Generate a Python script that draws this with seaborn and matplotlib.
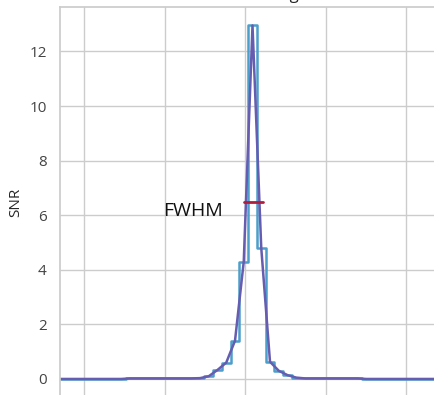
import numpy as np
import pandas as pd
import matplotlib
matplotlib.use("Agg")
import matplotlib.pyplot as plt
import seaborn as sns

# Binned signal-to-noise profile (one value per bin)
bin_width = 10.875
x_start = -30.0
snr = [
    0.0, 0.0, 0.0, 0.0, 0.0, 0.0, 0.0, 0.0,
    0.02, 0.02, 0.02, 0.02, 0.02, 0.02, 0.02, 0.02,
    0.03, 0.10, 0.33, 0.60, 1.40, 4.30, 12.95, 4.80,
    0.63, 0.30, 0.14, 0.05, 0.02, 0.02, 0.02, 0.02,
    0.02, 0.02, 0.02, 0.0, 0.0, 0.0, 0.0, 0.0,
    0.0, 0.0, 0.0, 0.0, 0.0, 0.0, 0.0, 0.0, 0.0,
]
bin_centers = x_start + bin_width * np.arange(len(snr))

# Full width at half maximum marker
fwhm_left = 198.4
fwhm_right = 222.1
fwhm_level = max(snr) / 2

df = pd.DataFrame({"x": bin_centers, "SNR": snr})

sns.set_theme(style="whitegrid")
plt.rcParams["font.family"] = ["Open Sans", "DejaVu Sans"]

fig = plt.figure(figsize=(4.35, 3.95), dpi=100)
ax = fig.add_axes([60 / 435, 1 - 396.7 / 395, 420 / 435, 389.5 / 395])

sns.lineplot(data=df, x="x", y="SNR", ax=ax, drawstyle="steps-mid",
             color="#4c9fcb", linewidth=1.8)
sns.lineplot(data=df, x="x", y="SNR", ax=ax, color="#665db0", linewidth=1.8)

ax.plot([fwhm_left, fwhm_right], [fwhm_level, fwhm_level],
        color="#b01e3c", linewidth=2)
ax.text(98, fwhm_level, "FWHM", ha="left", va="top", fontsize=14, color="#111111")

ax.set_xlim(bin_centers[0], bin_centers[-1])
ax.set_ylim(-0.65, 13.62)
ax.set_xticks([0, 100, 200, 300, 400])
ax.set_yticks([0, 2, 4, 6, 8, 10, 12])
ax.set_xlabel("")
ax.set_ylabel("SNR", fontsize=11)
ax.tick_params(axis="x", labelbottom=False)
ax.tick_params(axis="y", labelsize=11, labelcolor="#444444")
ax.set_title("Binning", fontsize=12)

fig.savefig("out.png", dpi=100)
